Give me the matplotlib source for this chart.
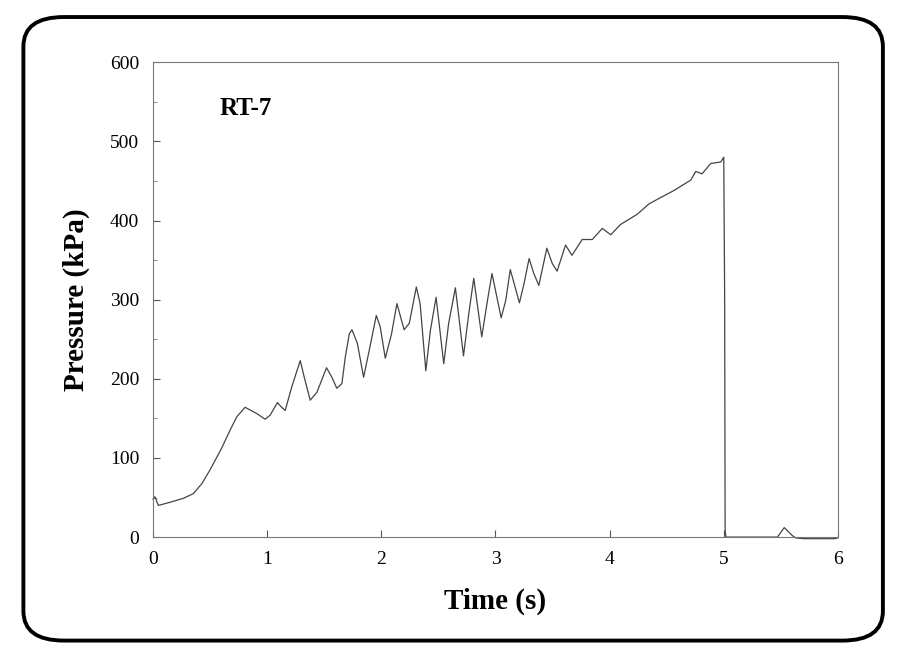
import matplotlib
matplotlib.use("Agg")
import matplotlib.pyplot as plt
from matplotlib.patches import FancyBboxPatch
from matplotlib.ticker import MultipleLocator

# Data
time_s = [0.000, 0.017, 0.047, 0.149, 0.266, 0.354, 0.430, 0.500, 0.600, 0.675,
          0.734, 0.807, 0.910, 0.982, 1.026, 1.090, 1.120, 1.158, 1.216, 1.290,
          1.325, 1.377, 1.436, 1.520, 1.567, 1.610, 1.655, 1.684, 1.720, 1.743,
          1.790, 1.845, 1.900, 1.956, 1.990, 2.035, 2.090, 2.137, 2.200, 2.245,
          2.307, 2.340, 2.390, 2.430, 2.480, 2.547, 2.590, 2.649, 2.720, 2.766,
          2.810, 2.880, 2.930, 2.970, 3.050, 3.090, 3.130, 3.210, 3.250, 3.295,
          3.336, 3.380, 3.450, 3.497, 3.540, 3.614, 3.670, 3.760, 3.848, 3.936,
          4.010, 4.096, 4.243, 4.345, 4.447, 4.565, 4.710, 4.755, 4.810, 4.886,
          4.974, 5.000, 5.008, 5.012, 5.020, 5.030, 5.200, 5.470, 5.530, 5.600,
          5.630, 5.700, 5.970, 6.000]
pressure_kpa = [48, 51, 40, 44, 49, 55, 68, 85, 112, 135,
                152, 164, 156, 149, 154, 170, 165, 160, 190, 223,
                202, 173, 183, 214, 202, 188, 194, 227, 257, 262,
                245, 202, 240, 280, 266, 226, 257, 295, 262, 270,
                316, 295, 210, 261, 303, 219, 270, 315, 229, 282,
                327, 253, 299, 333, 277, 299, 338, 296, 320, 352,
                333, 318, 365, 346, 336, 369, 356, 376, 376, 390,
                382, 395, 408, 421, 429, 438, 451, 462, 459, 472,
                474, 480, 300, 8, 0, 0, 0, 0, 12, 2,
                -1, -2, -2, -1]

x_ticks = [0, 1, 2, 3, 4, 5, 6]
y_ticks = [0, 100, 200, 300, 400, 500, 600]

plt.rcParams['font.family'] = ['Liberation Serif', 'DejaVu Serif']

fig = plt.figure(figsize=(9, 6.55), dpi=100)
fig.patch.set_facecolor('white')

# rounded frame around the figure
frame = FancyBboxPatch((0.026, 0.022), 0.955, 0.952,
                       boxstyle="round,pad=0,rounding_size=0.045",
                       transform=fig.transFigure, fill=False,
                       edgecolor='black', linewidth=2.8, zorder=0)
fig.patches.append(frame)

ax = fig.add_axes([0.170, 0.180, 0.761, 0.725])
ax.plot(time_s, pressure_kpa, color='#444444', linewidth=0.9, clip_on=False)

ax.set_xlim(0, 6)
ax.set_ylim(0, 600)
ax.set_xticks(x_ticks)
ax.set_yticks(y_ticks)
ax.yaxis.set_minor_locator(MultipleLocator(50))
ax.tick_params(axis='both', which='major', direction='in', length=5,
               width=0.8, color='#555555', labelsize=14, pad=10)
ax.tick_params(axis='both', which='minor', direction='in', length=3,
               width=0.6, color='#777777')
for s in ax.spines.values():
    s.set_color('#777777')
    s.set_linewidth(0.8)

ax.set_xlabel('Time (s)', fontsize=21, fontweight='bold', labelpad=14)
ax.set_ylabel('Pressure (kPa)', fontsize=21, fontweight='bold', labelpad=14)
ax.text(0.58, 542, 'RT-7', fontsize=18, fontweight='bold', va='center', ha='left')

fig.savefig('out.png', dpi=100, facecolor='white')
